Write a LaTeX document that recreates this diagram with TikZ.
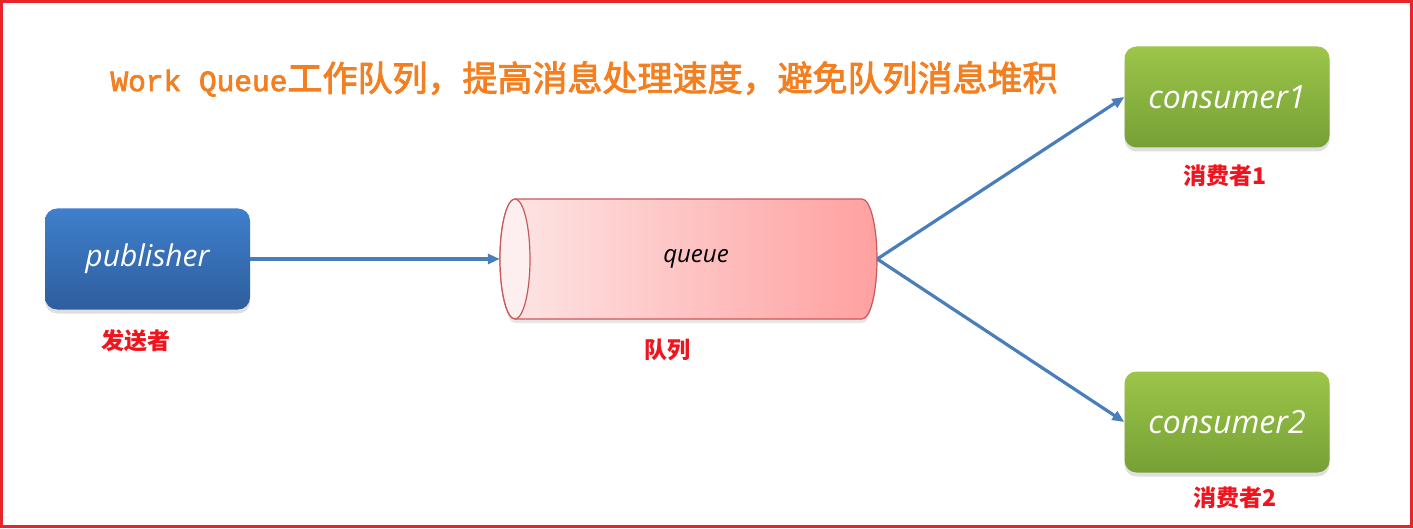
\documentclass[tikz,border=0pt]{standalone}
\usepackage{fontspec}
\usepackage{tikz}
\usetikzlibrary{arrows.meta, positioning, shadows}
\newfontfamily\cjkfont{Noto Sans CJK SC}
\newfontfamily\cjktitle[FakeBold=2.5]{Noto Sans CJK SC}
\newfontfamily\titlemono[FakeBold=2.5]{Liberation Mono}
\newfontfamily\handfont{Open Sans}
\definecolor{pubTop}{HTML}{3F7FCC}
\definecolor{pubBot}{HTML}{2E5E9E}
\definecolor{conTop}{HTML}{9CC54A}
\definecolor{conBot}{HTML}{76A035}
\definecolor{qLeft}{HTML}{FDE6E6}
\definecolor{qRight}{HTML}{FFA0A0}
\definecolor{qEdge}{HTML}{C8595A}
\definecolor{qFace}{HTML}{FDEFEF}
\definecolor{arrBlue}{HTML}{4A7EBB}
\definecolor{titleOrange}{HTML}{F47F20}
\definecolor{lblRed}{HTML}{F0141E}
\definecolor{frameRed}{HTML}{E8232A}

\begin{document}
\begin{tikzpicture}[
    x=1pt, y=1pt,
    box/.style={rounded corners=12pt, minimum width=205pt, minimum height=101pt,
                inner sep=0pt, text=white,
                drop shadow={shadow xshift=0pt, shadow yshift=-4pt, opacity=0.25}},
    pubbox/.style={box, top color=pubTop, bottom color=pubBot,
                   font=\handfont\itshape\fontsize{30}{33}\selectfont},
    conbox/.style={box, top color=conTop, bottom color=conBot,
                   font=\handfont\itshape\fontsize{32}{35}\selectfont},
    lbl/.style={text=lblRed, inner sep=0pt, font=\cjkfont\bfseries\fontsize{23}{26}\selectfont},
    arr/.style={-{Triangle[length=12pt, width=10pt]}, line width=3.2pt, arrBlue}
]
  \useasboundingbox (0,0) rectangle (1413,528);
  \draw[frameRed, line width=3pt] (1.5,1.5) rectangle (1411.5,526.5);

  \node[text=titleOrange, font=\cjktitle\fontsize{35}{38}\selectfont] (title) at (584,449)
    {{\titlemono\fontsize{29.5}{34}\selectfont Work Queue}工作队列，提高消息处理速度，避免队列消息堆积};

  \node[pubbox] (pub) at (147.5,269) {publisher};
  \node[lbl, below=20pt of pub, xshift=-12pt] (publbl) {发送者};

  % queue drawn as a cylinder
  \path[left color=qLeft, right color=qRight, draw=qEdge, line width=1.2pt,
        drop shadow={shadow xshift=0pt, shadow yshift=-4pt, opacity=0.2}]
    (515,329) -- (862,329) arc[start angle=90, end angle=-90, x radius=15, y radius=60]
    -- (515,209) arc[start angle=270, end angle=90, x radius=15, y radius=60] -- cycle;
  \draw[qEdge, line width=1.2pt, fill=qFace] (515,269) ellipse [x radius=15, y radius=60];
  \node[minimum width=377pt, minimum height=120pt, inner sep=0pt,
        font=\handfont\itshape\fontsize{24}{27}\selectfont] (queue) at (688.5,269) {\hspace*{15pt}queue};
  \node[lbl, below=20pt of queue, xshift=-21pt] (qlbl) {队列};

  \node[conbox] (con1) at (1227,431) {consumer1};
  \node[lbl, below=17pt of con1, xshift=-2pt] (con1lbl) {消费者1};
  \node[conbox] (con2) at (1227,106) {consumer2};
  \node[lbl, below=14pt of con2, xshift=8pt] (con2lbl) {消费者2};

  \draw[arr] (pub) -- (queue);
  \draw[arr] (queue.east) -- (con1.west);
  \draw[arr] (queue.east) -- (con2.west);
\end{tikzpicture}
\end{document}
